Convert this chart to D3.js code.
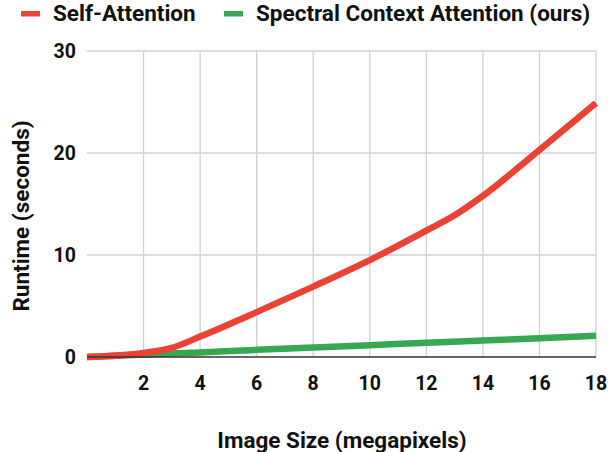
<!DOCTYPE html>
<html>
<head>
<meta charset="utf-8">
<script src="https://cdn.jsdelivr.net/npm/d3@7"></script>
<style>
  body { margin: 0; background: #fff; }
  text { font-family: Roboto, "Noto Sans", sans-serif; font-weight: bold; fill: #111; }
</style>
</head>
<body>
<svg id="chart" width="610" height="452"></svg>
<script>
// data
var seriesNames = ["Self-Attention", "Spectral Context Attention (ours)"];
var seriesColors = ["#ea4335", "#34a853"];
var selfX = [0, 2, 3, 4, 6, 8, 10, 12, 13, 14, 16, 18];
var selfY = [0, 0.4, 0.9, 2.0, 4.4, 6.9, 9.5, 12.4, 13.9, 15.8, 20.3, 24.9];
var specX = [0, 2, 4, 6, 8, 10, 12, 14, 16, 18];
var specY = [0, 0.25, 0.45, 0.7, 0.92, 1.15, 1.4, 1.62, 1.85, 2.08];
var xTicks = [2, 4, 6, 8, 10, 12, 14, 16, 18];
var yTicks = [0, 10, 20, 30];

var margin = {top: 51, right: 14, bottom: 95, left: 87};
var width = 610 - margin.left - margin.right,
    height = 452 - margin.top - margin.bottom;

var svg = d3.select("#chart");
var g = svg.append("g").attr("transform", "translate(" + margin.left + "," + margin.top + ")");

var x = d3.scaleLinear().domain([0, 18]).range([0, width]);
var y = d3.scaleLinear().domain([0, 30]).range([height, 0]);

// grid
g.selectAll(".hgrid").data(yTicks.filter(function(d) { return d > 0; }))
  .enter().append("line")
  .attr("x1", 0).attr("x2", width)
  .attr("y1", function(d) { return y(d); }).attr("y2", function(d) { return y(d); })
  .attr("stroke", "#d0d0d0").attr("stroke-width", 1.3);
g.selectAll(".vgrid").data(xTicks)
  .enter().append("line")
  .attr("y1", 0).attr("y2", height)
  .attr("x1", function(d) { return x(d); }).attr("x2", function(d) { return x(d); })
  .attr("stroke", "#d0d0d0").attr("stroke-width", 1.3);

// tick labels
g.selectAll(".ylab").data(yTicks).enter().append("text")
  .attr("x", -11).attr("y", function(d) { return y(d); })
  .attr("dy", "0.35em").attr("text-anchor", "end")
  .style("font-size", "19.5px")
  .text(function(d) { return d; });
g.selectAll(".xlab").data(xTicks).enter().append("text")
  .attr("x", function(d) { return x(d); }).attr("y", height + 33)
  .attr("text-anchor", "middle")
  .style("font-size", "19.5px")
  .text(function(d) { return d; });

// lines
var line = d3.line()
  .x(function(d) { return x(d[0]); })
  .y(function(d) { return y(d[1]); })
  .curve(d3.curveMonotoneX);

g.append("path").datum(d3.zip(specX, specY))
  .attr("fill", "none").attr("stroke", seriesColors[1]).attr("stroke-width", 6.5)
  .attr("d", line);
g.append("path").datum(d3.zip(selfX, selfY))
  .attr("fill", "none").attr("stroke", seriesColors[0]).attr("stroke-width", 6.5)
  .attr("d", line);

// baseline
g.append("line").attr("x1", 0).attr("x2", width).attr("y1", height).attr("y2", height)
  .attr("stroke", "#333").attr("stroke-width", 1.3);

// titles
svg.append("text")
  .attr("x", 342).attr("y", 448)
  .attr("text-anchor", "middle").style("font-size", "22.5px")
  .text("Image Size (megapixels)");
svg.append("text")
  .attr("transform", "translate(29,216) rotate(-90)")
  .attr("text-anchor", "middle").style("font-size", "22.5px")
  .text("Runtime (seconds)");

// legend
var legendX = [21, 224];
var leg = svg.selectAll(".leg").data(seriesNames).enter().append("g")
  .attr("transform", function(d, i) { return "translate(" + legendX[i] + ",0)"; });
leg.append("rect").attr("x", 0).attr("y", 11).attr("width", 19).attr("height", 5.5)
  .attr("fill", function(d, i) { return seriesColors[i]; });
leg.append("text").attr("x", 32).attr("y", 21)
  .style("font-size", "22.5px")
  .text(function(d) { return d; });
</script>
</body>
</html>
